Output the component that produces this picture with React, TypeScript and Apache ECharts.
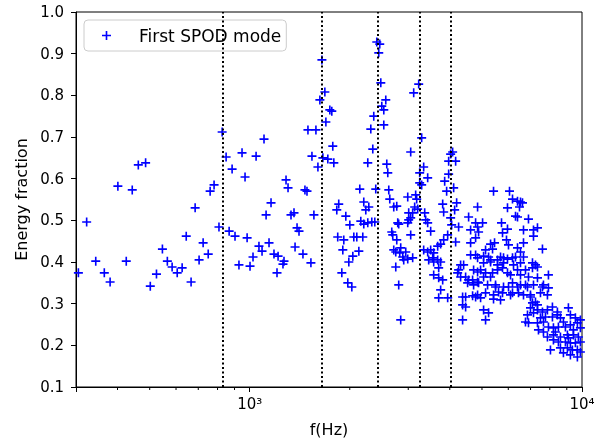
import React, { useEffect, useRef } from 'react';
import * as echarts from 'echarts';

// [frequency (Hz), energy fraction]
const pointsLow: number[][] = [
  [305,0.374],[323,0.496],[344,0.402],[365,0.374],[380,0.352],[401,0.582],[425,0.402],[443,0.573],[462,0.633],[486,0.638],
  [502,0.342],[524,0.371],[546,0.431],[565,0.402],[584,0.388],[605,0.374],[626,0.386],[644,0.462],[666,0.352],[685,0.530],
  [704,0.405],[724,0.446],[750,0.419],[760,0.570],[781,0.585],[808,0.484],[826,0.712],[849,0.652],[867,0.474],[885,0.623],
  [903,0.462],[928,0.393],[948,0.662],[968,0.604],[982,0.458],[1002,0.390],[1023,0.412],[1045,0.654],[1066,0.438],[1089,0.426],
  [1104,0.695],[1120,0.513],[1159,0.542],[1143,0.446],[1183,0.419],[1208,0.374],[1217,0.414],[1259,0.395],[1268,0.402],[1286,0.597],
  [1304,0.578],[1331,0.513],[1359,0.518],[1369,0.436],[1388,0.482],[1407,0.474],[1446,0.419]
];

const pointsMid: number[][] = [
  [1466,0.573],[1487,0.570],[1497,0.717],[1582,0.717],[1528,0.398],[1539,0.654],[1560,0.513],[1604,0.628],[1626,0.789],[1649,0.885],
  [1660,0.650],[1683,0.808],[1695,0.736],[1718,0.647],[1742,0.765],[1766,0.762],[1778,0.678],[1791,0.638],[1828,0.525],[1853,0.539],
  [1840,0.460],[1919,0.453],[1906,0.429],[1946,0.510],[1893,0.374],[1973,0.350],[2029,0.340],[1987,0.400],[2043,0.414],[2001,0.489],
  [2057,0.460],[2100,0.460],[2189,0.460],[2130,0.426],[2144,0.575],[2159,0.498],[2204,0.491],[2266,0.494],[2330,0.496],[2379,0.496],
  [2204,0.544],[2235,0.525],[2282,0.532],[2266,0.638],[2314,0.719],[2346,0.671],[2362,0.750],[2395,0.575],[2412,0.928],[2462,0.923],
  [2445,0.902],[2480,0.830],[2497,0.774],[2532,0.765],[2532,0.729],[2567,0.789],[2585,0.635],[2603,0.614],[2621,0.573],[2639,0.551],
  [2713,0.532],[2676,0.472],[2694,0.465],[2770,0.453],[2808,0.491],[2713,0.429],[2751,0.424],[2828,0.422],[2751,0.388],[2808,0.345],
  [2847,0.261],[2770,0.534],[2789,0.494],[2847,0.434],[2887,0.412],[2907,0.405],[2948,0.424],[2989,0.407],[3093,0.410],[2989,0.556],
  [3051,0.664],[3115,0.806],[3225,0.827],[3292,0.698],[3338,0.628],[3247,0.614],[3432,0.602],[3247,0.590],[3292,0.585],[3158,0.561],
  [3180,0.551],[3136,0.532],[3009,0.518],[3093,0.518],[3051,0.506],[3202,0.527],[3362,0.518],[3385,0.501],[3432,0.494],[3504,0.474],
  [3009,0.501],[2989,0.494],[3051,0.465],[3338,0.429],[3432,0.424],[3504,0.429],[3578,0.422],[3553,0.410],[3456,0.405],[3578,0.400],
  [3678,0.405],[3755,0.400],[3704,0.386],[3578,0.369],[3704,0.362],[3808,0.357],[3755,0.333],[3704,0.314],[3942,0.314],[3808,0.539],
  [3834,0.520],[3861,0.594],[3914,0.570],[3969,0.611],[3969,0.642],[4166,0.642],[4024,0.659],[4080,0.664],[4109,0.578],[4195,0.542],
  [4137,0.525],[4024,0.506],[4052,0.489],[4253,0.484],[3942,0.465],[3834,0.453],[3755,0.443],[3678,0.438],[4166,0.448],[4312,0.393],
  [4403,0.393],[4253,0.381],[4224,0.374],[4312,0.364],[4464,0.364],[4372,0.316],[4464,0.316],[4372,0.297],[4464,0.292],[4372,0.261]
];

const pointsHigh: number[][] = [
  [4558,0.508],[4621,0.477],[4784,0.494],[4850,0.484],[4884,0.472],[4621,0.446],[4621,0.417],[4784,0.417],[4850,0.410],[4558,0.357],
  [4526,0.350],[4718,0.345],[4685,0.357],[4850,0.352],[4685,0.319],[4784,0.316],[4850,0.532],[5417,0.570],[6051,0.570],[6178,0.551],
  [6396,0.546],[6530,0.544],[6621,0.542],[6485,0.532],[5967,0.530],[6308,0.510],[6396,0.508],[6901,0.503],[5021,0.494],[4784,0.458],
  [5725,0.494],[5967,0.479],[5765,0.470],[6667,0.477],[7145,0.477],[7345,0.482],[7145,0.462],[5926,0.453],[6009,0.441],[6667,0.446],
  [5306,0.443],[5455,0.446],[5380,0.431],[5126,0.429],[7603,0.431],[6396,0.434],[6530,0.424],[6667,0.412],[5056,0.414],[5234,0.412],
  [5306,0.405],[5569,0.405],[5686,0.412],[5805,0.410],[5967,0.407],[6178,0.410],[6308,0.412],[7095,0.398],[7244,0.393],[7345,0.388],
  [7095,0.386],[7925,0.369],[4718,0.381],[4952,0.381],[5126,0.374],[5306,0.364],[5569,0.381],[5765,0.386],[5967,0.374],[6094,0.369],
  [6396,0.381],[6760,0.381],[6901,0.364],[7345,0.362],[7656,0.345],[7925,0.338],[4884,0.350],[5198,0.345],[5493,0.345],[5805,0.340],
  [6178,0.350],[6530,0.345],[6854,0.340],[7145,0.345],[4850,0.321],[5126,0.326],[5417,0.321],[5765,0.326],[6094,0.321],[6667,0.321],
  [6998,0.321],[7499,0.326],[7870,0.321],[5056,0.398],[5306,0.400],[5569,0.393],[5805,0.398],[6221,0.393],[6530,0.398],[4850,0.376],
  [5056,0.364],[5380,0.374],[6530,0.369],[5493,0.340],[6009,0.340],[6396,0.340],[6760,0.345],[7603,0.340],[5608,0.328],[6178,0.326],
  [6440,0.326],[4952,0.314],[5417,0.311],[5686,0.309],[6998,0.316],[7244,0.304],[7345,0.297],[7095,0.302],[6998,0.290],[7345,0.285],
  [7603,0.280],[7870,0.285],[8147,0.292],[8433,0.280],[5056,0.285],[5234,0.278],[5126,0.261],[6854,0.273],[7145,0.278],[7499,0.266],
  [7763,0.268],[8147,0.268],[8433,0.273],[8612,0.266],[6760,0.256],[6901,0.254],[7345,0.254],[7656,0.256],[9101,0.290],[9228,0.273],
  [7396,0.237],[7656,0.232],[7925,0.244],[8204,0.242],[8492,0.244],[8914,0.244],[9228,0.249],[9685,0.254],[9890,0.261],[9890,0.242],
  [7870,0.220],[8204,0.225],[8612,0.220],[9038,0.225],[9421,0.225],[9752,0.220],[8204,0.213],[8492,0.208],[8914,0.208],[9228,0.206],
  [9552,0.206],[9890,0.208],[8036,0.189],[8612,0.194],[9038,0.194],[9356,0.189],[9685,0.189],[9890,0.184],[8792,0.182],[9228,0.177],
  [9685,0.172],[8792,0.256],[9421,0.237],[9552,0.266],[8318,0.232],[9101,0.218]
];

const peakLinesHz = [830, 1649, 2429, 3240, 4031];
const minorTickHz = [400, 500, 600, 700, 800, 900, 2000, 3000, 4000, 5000, 6000, 7000, 8000, 9000];
const superscripts: Record<number, string> = { 2: '²', 3: '³', 4: '⁴' };
const seriesName = 'First SPOD mode';

const PLUS = 'path://M0,4.1H4.1V0H5.9V4.1H10V5.9H5.9V10H4.1V5.9H0Z';
const FONT = 'DejaVu Sans';
const Y_MIN = 0.1;

export default function App() {
  const ref = useRef<HTMLDivElement>(null);
  useEffect(() => {
    const chart = echarts.init(ref.current!, null, { renderer: 'svg' });
    chart.setOption({
      animation: false,
      textStyle: { fontFamily: FONT },
      grid: {
        left: 76, right: 23, top: 12, bottom: 59,
        show: true, borderColor: '#000', borderWidth: 1, backgroundColor: 'transparent'
      },
      legend: {
        left: 84, top: 20,
        data: [{ name: seriesName, icon: PLUS }],
        itemWidth: 9, itemHeight: 9,
        padding: [7, 5, 7, 18],
        backgroundColor: 'rgba(255,255,255,0.8)',
        borderColor: '#cccccc', borderWidth: 1, borderRadius: 4,
        textStyle: { fontSize: 17, color: '#000', padding: [0, 0, 0, 23], fontFamily: FONT }
      },
      xAxis: {
        type: 'log', logBase: 10, min: 300, max: 10000,
        name: 'f(Hz)', nameLocation: 'middle', nameGap: 34,
        nameTextStyle: { fontSize: 16, color: '#000', fontFamily: FONT },
        axisLine: { show: true, lineStyle: { color: '#000' } },
        axisTick: { show: true, length: 5, lineStyle: { color: '#000' } },
        axisLabel: {
          fontSize: 15, color: '#000', margin: 9, fontFamily: FONT,
          formatter: (v: number) => {
            const e = Math.log10(v);
            const r = Math.round(e);
            return Math.abs(e - r) < 1e-6 ? '10' + (superscripts[r] || '') : '';
          }
        },
        splitLine: { show: false },
        minorTick: { show: false }
      },
      yAxis: {
        type: 'value', min: Y_MIN, max: 1.0, interval: 0.1,
        name: 'Energy fraction', nameLocation: 'middle', nameGap: 46,
        nameTextStyle: { fontSize: 16, color: '#000', fontFamily: FONT },
        axisLine: { show: true, lineStyle: { color: '#000' } },
        axisTick: { show: true, length: 5, lineStyle: { color: '#000' } },
        axisLabel: { fontSize: 15, color: '#000', margin: 12, fontFamily: FONT, formatter: (v: number) => v.toFixed(1) },
        splitLine: { show: false }
      },
      series: [
        {
          name: seriesName,
          type: 'scatter',
          data: [...pointsLow, ...pointsMid, ...pointsHigh],
          symbol: PLUS,
          symbolSize: 9,
          itemStyle: { color: '#0000ff', opacity: 1 },
          markLine: {
            silent: true,
            symbol: ['none', 'none'],
            label: { show: false },
            lineStyle: { color: '#000', width: 2, type: [2, 2.5], opacity: 1 },
            data: peakLinesHz.map((x) => ({ xAxis: x }))
          }
        },
        {
          type: 'custom',
          data: minorTickHz.map((f) => [f, Y_MIN]),
          clip: false,
          silent: true,
          z: 5,
          renderItem: (params: any, api: any) => {
            const p = api.coord([api.value(0), api.value(1)]);
            return {
              type: 'line',
              shape: { x1: p[0], y1: p[1], x2: p[0], y2: p[1] + 3 },
              style: { stroke: '#000', lineWidth: 1 }
            };
          }
        }
      ]
    });
    return () => chart.dispose();
  }, []);
  return <div ref={ref} style={{ position: 'fixed', left: 0, top: 0, width: 605, height: 446 }} />;
}
